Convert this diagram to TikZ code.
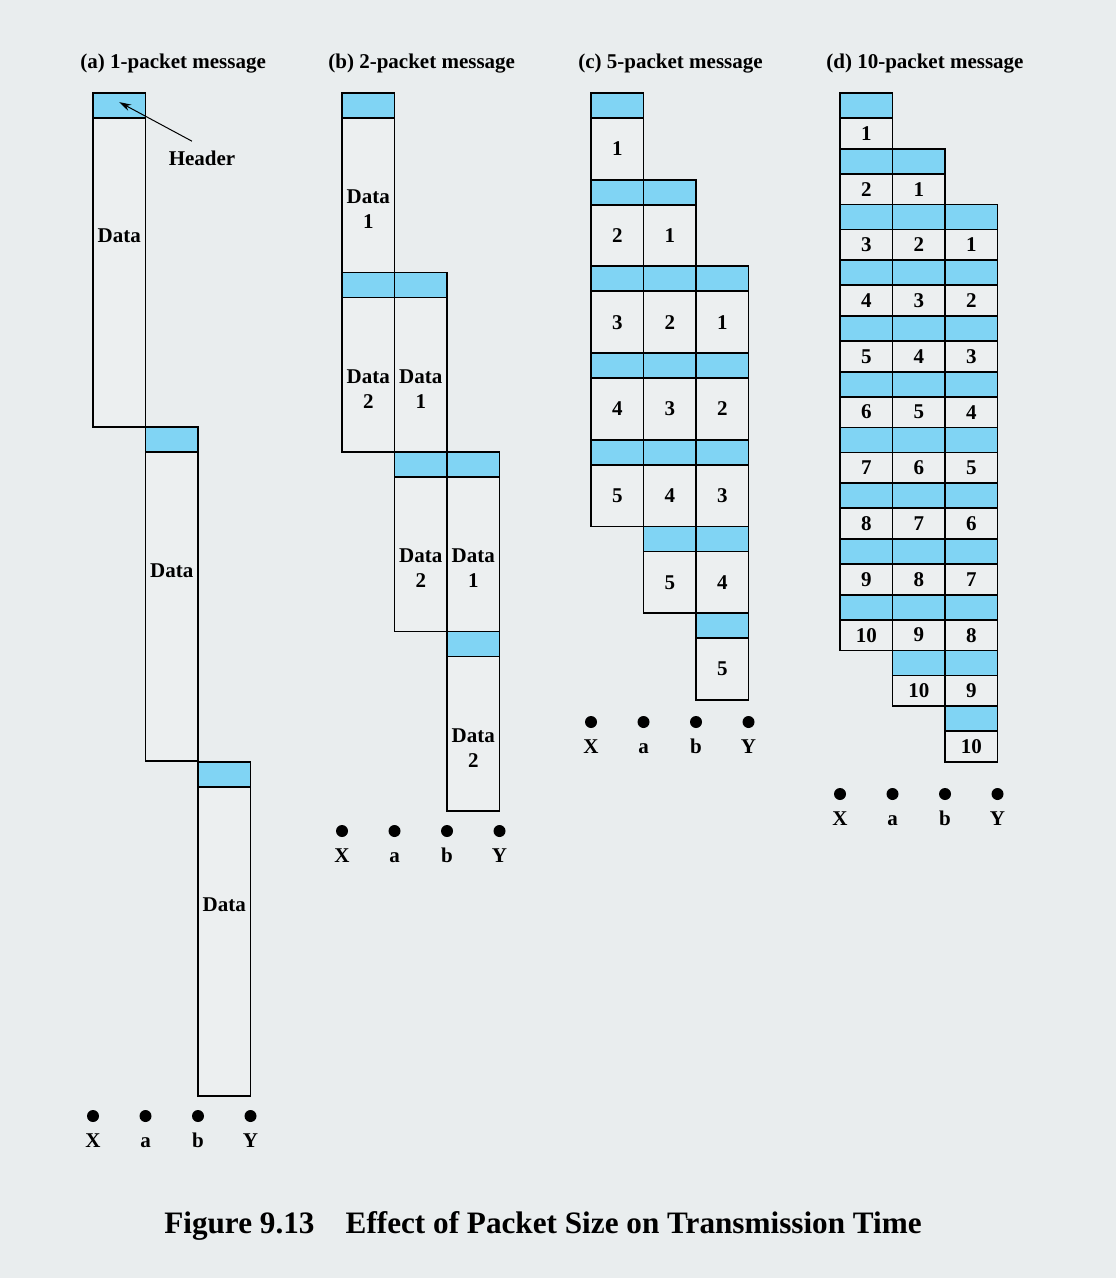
\documentclass[tikz,border=0pt]{standalone}
\usepackage{fontspec}
\setmainfont{Liberation Serif}
\usetikzlibrary{arrows.meta}
\definecolor{bg}{HTML}{E9EDEE}
\definecolor{hb}{HTML}{80D4F4}
\definecolor{cl}{HTML}{ECEFF0}

\tikzset{
  hdr/.style = {draw=black, fill=hb, line width=0.9pt, anchor=north west, minimum width=26.25pt, minimum height=12.5pt, inner sep=0pt, outer sep=0pt},
  cell/.style = {draw=black, fill=cl, line width=0.9pt, anchor=north west, minimum width=26.25pt, inner sep=0pt, outer sep=0pt, font=\bfseries\fontsize{10.5}{12.5}\selectfont},
  cella/.style = {cell, minimum height=154.5pt},
  cellb/.style = {cell, minimum height=77.25pt},
  cellc/.style = {cell, minimum height=30.85pt},
  celld/.style = {cell, minimum height=15.375pt},
  hop/.style = {font=\bfseries\fontsize{10.5}{12.5}\selectfont, inner sep=0pt},
  ttl/.style = {font=\bfseries\fontsize{10.5}{12.5}\selectfont, inner sep=0pt, anchor=west},
  dot/.style = {circle, fill=black, inner sep=0pt, minimum size=6pt},
  end/.style = {hop, text height=7pt, text depth=0pt},
}

\begin{document}
\begin{tikzpicture}[x=0.5pt, y=-0.5pt]
  \fill[bg] (0,0) rectangle (1116,1278);
  \useasboundingbox (0,0) rectangle (1116,1278);

  % (a) 1-packet message
  \node[ttl] (ta) at (80,64) {(a) 1-packet message};
  \path (93,93) node[hdr] (a0h0) {} (93,118) node[cella, label={[hop,yshift=18.25pt]center:Data}] (a0c0) {};
  \path (145.5,427.3) node[hdr] (a1h1) {} (145.5,452.3) node[cella, label={[hop,yshift=18.25pt]center:Data}] (a1c1) {};
  \path (198,761.6) node[hdr] (a2h2) {} (198,786.6) node[cella, label={[hop,yshift=18.25pt]center:Data}] (a2c2) {};
  \node[hop] (hdlbl) at (202,158) {Header};
  \draw[line width=0.5pt, -{Stealth[length=6pt,width=3.5pt]}] ([xshift=-5pt,yshift=4.5pt]hdlbl.north) -- ([yshift=1.7pt]a0h0.center);
  \node[dot, label={[end,label distance=5.5pt]below:X}] (ax) at (93,1116) {};
  \node[dot, label={[end,label distance=5.5pt]below:a}] (aa) at (145.5,1116) {};
  \node[dot, label={[end,label distance=5.5pt]below:b}] (ab) at (198,1116) {};
  \node[dot, label={[end,label distance=5.5pt]below:Y}] (ay) at (250.5,1116) {};

  % (b) 2-packet message
  \node[ttl] (tb) at (328,64) {(b) 2-packet message};
  \path (342,93) node[hdr] (b0h0) {} (342,118) node[cellb, label={[hop,align=center,yshift=-7pt]center:{Data\\1}}] (b0c0) {};
  \path (342,272.5) node[hdr] (b1h0) {} (394.5,272.5) node[hdr] (b1h1) {}
        (342,297.5) node[cellb, label={[hop,align=center,yshift=-7pt]center:{Data\\2}}] (b1c0) {}
        (394.5,297.5) node[cellb, label={[hop,align=center,yshift=-7pt]center:{Data\\1}}] (b1c1) {};
  \path (394.5,452) node[hdr] (b2h1) {} (447,452) node[hdr] (b2h2) {}
        (394.5,477) node[cellb, label={[hop,align=center,yshift=-7pt]center:{Data\\2}}] (b2c1) {}
        (447,477) node[cellb, label={[hop,align=center,yshift=-7pt]center:{Data\\1}}] (b2c2) {};
  \path (447,631.5) node[hdr] (b3h2) {} (447,656.5) node[cellb, label={[hop,align=center,yshift=-7pt]center:{Data\\2}}] (b3c2) {};
  \node[dot, label={[end,label distance=5.5pt]below:X}] (bx) at (342,831) {};
  \node[dot, label={[end,label distance=5.5pt]below:a}] (ba) at (394.5,831) {};
  \node[dot, label={[end,label distance=5.5pt]below:b}] (bb) at (447,831) {};
  \node[dot, label={[end,label distance=5.5pt]below:Y}] (by) at (499.5,831) {};

  % (c) 5-packet message
  \node[ttl] (tc) at (578,64) {(c) 5-packet message};
  \path (591,93) node[hdr] (c0h0) {} (591,118) node[cellc] (c0c0) {1};
  \path (591,179.7) node[hdr] (c1h0) {} (643.5,179.7) node[hdr] (c1h1) {}
        (591,204.7) node[cellc] (c1c0) {2} (643.5,204.7) node[cellc] (c1c1) {1};
  \path (591,266.4) node[hdr] (c2h0) {} (643.5,266.4) node[hdr] (c2h1) {} (696,266.4) node[hdr] (c2h2) {}
        (591,291.4) node[cellc] (c2c0) {3} (643.5,291.4) node[cellc] (c2c1) {2} (696,291.4) node[cellc] (c2c2) {1};
  \path (591,353.1) node[hdr] (c3h0) {} (643.5,353.1) node[hdr] (c3h1) {} (696,353.1) node[hdr] (c3h2) {}
        (591,378.1) node[cellc] (c3c0) {4} (643.5,378.1) node[cellc] (c3c1) {3} (696,378.1) node[cellc] (c3c2) {2};
  \path (591,439.8) node[hdr] (c4h0) {} (643.5,439.8) node[hdr] (c4h1) {} (696,439.8) node[hdr] (c4h2) {}
        (591,464.8) node[cellc] (c4c0) {5} (643.5,464.8) node[cellc] (c4c1) {4} (696,464.8) node[cellc] (c4c2) {3};
  \path (643.5,526.5) node[hdr] (c5h1) {} (696,526.5) node[hdr] (c5h2) {}
        (643.5,551.5) node[cellc] (c5c1) {5} (696,551.5) node[cellc] (c5c2) {4};
  \path (696,613.2) node[hdr] (c6h2) {} (696,638.2) node[cellc] (c6c2) {5};
  \node[dot, label={[end,label distance=5.5pt]below:X}] (cx) at (591,722) {};
  \node[dot, label={[end,label distance=5.5pt]below:a}] (ca) at (643.5,722) {};
  \node[dot, label={[end,label distance=5.5pt]below:b}] (cb) at (696,722) {};
  \node[dot, label={[end,label distance=5.5pt]below:Y}] (cy) at (748.5,722) {};

  % (d) 10-packet message
  \node[ttl] (td) at (826,64) {(d) 10-packet message};
  \path (840,93) node[hdr] (d0h0) {} (840,118) node[celld] (d0c0) {1};
  \path (840,148.75) node[hdr] (d1h0) {} (892.5,148.75) node[hdr] (d1h1) {}
        (840,173.75) node[celld] (d1c0) {2} (892.5,173.75) node[celld] (d1c1) {1};
  \path (840,204.5) node[hdr] (d2h0) {} (892.5,204.5) node[hdr] (d2h1) {} (945,204.5) node[hdr] (d2h2) {}
        (840,229.5) node[celld] (d2c0) {3} (892.5,229.5) node[celld] (d2c1) {2} (945,229.5) node[celld] (d2c2) {1};
  \path (840,260.25) node[hdr] (d3h0) {} (892.5,260.25) node[hdr] (d3h1) {} (945,260.25) node[hdr] (d3h2) {}
        (840,285.25) node[celld] (d3c0) {4} (892.5,285.25) node[celld] (d3c1) {3} (945,285.25) node[celld] (d3c2) {2};
  \path (840,316) node[hdr] (d4h0) {} (892.5,316) node[hdr] (d4h1) {} (945,316) node[hdr] (d4h2) {}
        (840,341) node[celld] (d4c0) {5} (892.5,341) node[celld] (d4c1) {4} (945,341) node[celld] (d4c2) {3};
  \path (840,371.75) node[hdr] (d5h0) {} (892.5,371.75) node[hdr] (d5h1) {} (945,371.75) node[hdr] (d5h2) {}
        (840,396.75) node[celld] (d5c0) {6} (892.5,396.75) node[celld] (d5c1) {5} (945,396.75) node[celld] (d5c2) {4};
  \path (840,427.5) node[hdr] (d6h0) {} (892.5,427.5) node[hdr] (d6h1) {} (945,427.5) node[hdr] (d6h2) {}
        (840,452.5) node[celld] (d6c0) {7} (892.5,452.5) node[celld] (d6c1) {6} (945,452.5) node[celld] (d6c2) {5};
  \path (840,483.25) node[hdr] (d7h0) {} (892.5,483.25) node[hdr] (d7h1) {} (945,483.25) node[hdr] (d7h2) {}
        (840,508.25) node[celld] (d7c0) {8} (892.5,508.25) node[celld] (d7c1) {7} (945,508.25) node[celld] (d7c2) {6};
  \path (840,539) node[hdr] (d8h0) {} (892.5,539) node[hdr] (d8h1) {} (945,539) node[hdr] (d8h2) {}
        (840,564) node[celld] (d8c0) {9} (892.5,564) node[celld] (d8c1) {8} (945,564) node[celld] (d8c2) {7};
  \path (840,594.75) node[hdr] (d9h0) {} (892.5,594.75) node[hdr] (d9h1) {} (945,594.75) node[hdr] (d9h2) {}
        (840,619.75) node[celld] (d9c0) {10} (892.5,619.75) node[celld] (d9c1) {9} (945,619.75) node[celld] (d9c2) {8};
  \path (892.5,650.5) node[hdr] (d10h1) {} (945,650.5) node[hdr] (d10h2) {}
        (892.5,675.5) node[celld] (d10c1) {10} (945,675.5) node[celld] (d10c2) {9};
  \path (945,706.25) node[hdr] (d11h2) {} (945,731.25) node[celld] (d11c2) {10};
  \node[dot, label={[end,label distance=5.5pt]below:X}] (dx) at (840,794) {};
  \node[dot, label={[end,label distance=5.5pt]below:a}] (da) at (892.5,794) {};
  \node[dot, label={[end,label distance=5.5pt]below:b}] (db) at (945,794) {};
  \node[dot, label={[end,label distance=5.5pt]below:Y}] (dy) at (997.5,794) {};

  \node[font=\bfseries\fontsize{15.6}{18}\selectfont, inner sep=0pt] (cap) at (543,1226) {Figure 9.13\quad Effect of Packet Size on Transmission Time};
\end{tikzpicture}
\end{document}
